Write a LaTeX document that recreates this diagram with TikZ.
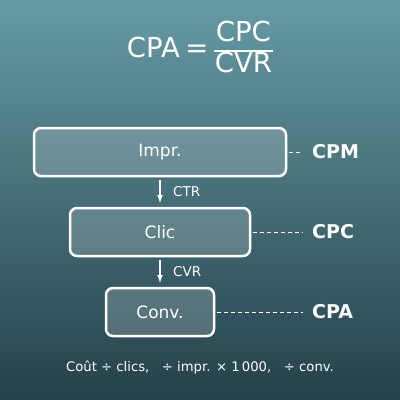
\documentclass[tikz,border=0pt]{standalone}
\usepackage{fontspec}
\setmainfont{DejaVu Sans}
\usepackage{tikz}
\usetikzlibrary{shapes,arrows}
\definecolor{BgTop}{RGB}{102,155,165}
\definecolor{BgBottom}{RGB}{36,64,74}

\begin{document}
\begin{tikzpicture}[x=1pt, y=-1pt]
				\tikzstyle{stage}=[draw=white, line width=2.5pt, rounded corners=7pt, fill=white, fill opacity=0.18, text opacity=1, text=white, minimum height=48pt, font=\fontsize{17}{20}\selectfont];
				\tikzstyle{metric}=[anchor=west, text=white, inner sep=0pt, font=\fontsize{19}{22}\selectfont\bfseries];
				\tikzstyle{rate}=[anchor=west, text=white, inner sep=0pt, font=\fontsize{13.5}{15}\selectfont];
				\tikzstyle{guide}=[draw=white, line width=0.9pt, dash pattern=on 4pt off 3pt];
				% background
				\shade [top color=BgTop, bottom color=BgBottom] (0,0) rectangle (400,400);
				\useasboundingbox (0,0) rectangle (400,400);
				% formula
				\node [text=white, font=\fontsize{27.5}{30}\selectfont] (formula) at (200,51) {CPA\hspace{0.2em}=\hspace{0.2em}\renewcommand{\arraystretch}{0.95}\setlength{\arrayrulewidth}{1.6pt}\begin{tabular}{@{\hspace{1pt}}c@{\hspace{1pt}}}CPC\\\hline CVR\end{tabular}};
				% funnel
				\node [stage, minimum width=252pt] (impr) at (160,152) {Impr.};
				\node [stage, minimum width=180pt] (clic) at (160,232) {Clic};
				\node [stage, minimum width=108pt] (conv) at (160,312) {Conv.};
				\draw [-latex, white, line width=1.6pt, shorten <=3pt, shorten >=4pt] (impr) -- (clic);
				\draw [-latex, white, line width=1.6pt, shorten <=3pt, shorten >=4pt] (clic) -- (conv);
				\node [rate] (ctr) at (173,192) {CTR};
				\node [rate] (cvr) at (173,272) {CVR};
				% metrics
				\coordinate (m1) at (302,152);
				\coordinate (m2) at (303,232);
				\coordinate (m3) at (303,312);
				\node [metric] (cpm) at (312,152) {CPM};
				\node [metric] (cpc) at (312,232) {CPC};
				\node [metric] (cpa) at (312,312) {CPA};
				\draw [guide] (impr.east) ++(2pt,0) -- (m1);
				\draw [guide] (clic) ++(93pt,0) -- (m2);
				\draw [guide] (conv) ++(57pt,0) -- (m3);
				\node [text=white, font=\fontsize{13.2}{15}\selectfont] (note) at (200,368) {Coût ÷ clics,\ \ \ ÷ impr. × 1\,000,\ \ \ ÷ conv.};
			\end{tikzpicture}
\end{document}
